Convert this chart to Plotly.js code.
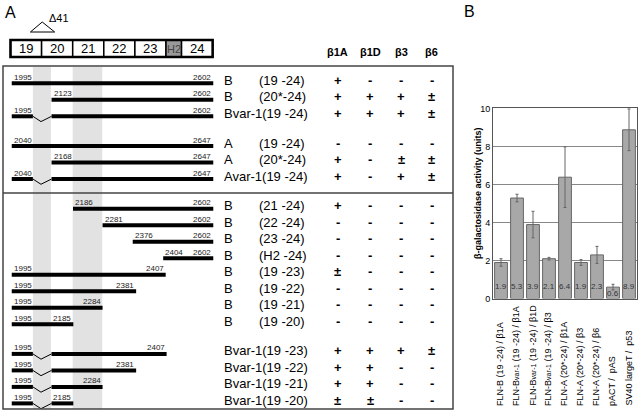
<!DOCTYPE html>
<html><head><meta charset="utf-8">
<script src="https://cdn.plot.ly/plotly-3.0.1.min.js"></script>
<style>html,body{margin:0;padding:0;background:#fff}#chart{width:640px;height:420px}</style>
</head><body><div id="chart"></div>
<script>
// ---------- Panel B data ----------
const barLabels = [
  'FLN-B (19 -24) / β1A',
  'FLN-B<span style="font-size:7px">var-1</span> (19 -24) / β1A',
  'FLN-B<span style="font-size:7px">var-1</span> (19 -24) / β1D',
  'FLN-B<span style="font-size:7px">var-1</span> (19 -24) / β3',
  'FLN-A (20*-24) / β1A',
  'FLN-A (20*-24) / β3',
  'FLN-A (20*-24) / β6',
  'pACT /  pAS',
  'SV40 largeT /  p53'
];
const barValues = [1.9, 5.3, 3.9, 2.1, 6.4, 1.9, 2.3, 0.6, 8.9];
const barErrors = [0.2, 0.2, 0.7, 0.07, 1.6, 0.15, 0.45, 0.15, 1.1];

// ---------- Panel A data ----------
const constructNames = ['B','B','Bvar-1','A','A','Avar-1','B','B','B','B','B','B','B','B','Bvar-1','Bvar-1','Bvar-1','Bvar-1'];
const constructRanges = ['(19 -24)','(20*-24)','(19 -24)','(19 -24)','(20*-24)','(19 -24)','(21 -24)','(22 -24)','(23 -24)','(H2 -24)','(19 -23)','(19 -22)','(19 -21)','(19 -20)','(19 -23)','(19 -22)','(19 -21)','(19 -20)'];
const constructGroup = [0,0,0,1,1,1,2,2,2,2,2,2,2,2,3,3,3,3];
const startNt = [1995,2123,1995,2040,2168,2040,2186,2281,2376,2404,1995,1995,1995,1995,1995,1995,1995,1995];
const endNt   = [2602,2602,2602,2647,2647,2647,2602,2602,2602,2602,2407,2381,2284,2185,2407,2381,2284,2185];
// positions along the exon diagram (exon units: exon 19 starts at 0)
const startPos = [0.04,1.32,0.04,0.04,1.32,0.04,2.01,2.96,3.93,4.91,0.04,0.04,0.04,0.04,0.04,0.04,0.04,0.04];
const endPos   = [6.52,6.52,6.52,6.52,6.52,6.52,6.52,6.52,6.52,6.52,4.99,4.04,2.96,2.02,5.02,4.04,2.96,2.02];
const spliceVar = [false,false,true,false,false,true,false,false,false,false,false,false,false,false,true,true,true,true];
const betaHeaders = ['β1A','β1D','β3','β6'];
const beta1A = ['+','+','+','-','+','+','+','-','-','-','±','-','-','-','+','+','+','±'];
const beta1D = ['-','+','+','-','-','-','-','-','-','-','-','-','-','-','+','+','+','±'];
const beta3  = ['-','+','+','-','±','+','-','-','-','-','-','-','-','-','+','-','-','-'];
const beta6  = ['-','±','±','-','±','±','-','-','-','-','-','-','-','-','±','-','-','-'];
const exonNames = ['19','20','21','22','23','H2','24'];
const exonStart = [0,1,2,3,4,5,5.5];
const exonEnd   = [1,2,3,4,5,5.5,6.5];
const delta41 = [0.72, 1.32];      // deleted segment (Δ41)
const shadedBands = [[0.72, 1.30], [2.0, 2.95]];

// ---------- helpers ----------
const W = 640, H = 420;
const px = x => x / W;
const py = y => 1 - y / H;
const FONT = 'Liberation Sans, Arial, sans-serif';
const rowY = constructNames.map((_, i) => i + 0.8 * constructGroup[i]);

const traces = [];
const shapes = [];
const annotations = [];

// ---------- Panel A ----------
// shaded bands
shadedBands.forEach(b => shapes.push({type:'rect', xref:'x2', yref:'paper', x0:b[0], x1:b[1], y0:py(409), y1:py(67), fillcolor:'#e2e2e2', line:{width:0}, layer:'below'}));
// box and separator
shapes.push({type:'rect', xref:'paper', yref:'paper', x0:px(3), x1:px(453), y0:py(409), y1:py(66), line:{color:'#444', width:1.5}});
shapes.push({type:'line', xref:'paper', yref:'paper', x0:px(3), x1:px(453), y0:py(193), y1:py(193), line:{color:'#444', width:1.5}});

// exon boxes
exonNames.forEach((n, i) => {
  shapes.push({type:'rect', xref:'x2', yref:'paper', x0:exonStart[i], x1:exonEnd[i], y0:py(57), y1:py(40),
    fillcolor: n === 'H2' ? '#9a9a9a' : '#fff', line:{color:'#000', width:1.5}});
  annotations.push({xref:'x2', yref:'paper', x:(exonStart[i]+exonEnd[i])/2, y:py(48.5), text:n, showarrow:false,
    font:{family:FONT, size: n === 'H2' ? 11 : 13, color: n === 'H2' ? '#444' : '#000'}, xanchor:'center', yanchor:'middle'});
});
shapes.push({type:'rect', xref:'x2', yref:'paper', x0:exonStart[0], x1:exonEnd[exonEnd.length-1], y0:py(57), y1:py(40), line:{color:'#000', width:2.5}});
// Δ41 triangle
const triMid = (delta41[0] + delta41[1]) / 2;
shapes.push({type:'path', xref:'x2', yref:'paper',
  path:`M ${delta41[0]-0.08} ${py(32)} L ${triMid} ${py(22)} L ${delta41[1]+0.1} ${py(32)} Z`,
  fillcolor:'#fff', line:{color:'#000', width:1}});
annotations.push({xref:'paper', yref:'paper', x:px(47), y:py(18), text:'Δ41', showarrow:false, xanchor:'left', yanchor:'middle', font:{family:FONT, size:11, color:'#000'}});
annotations.push({xref:'paper', yref:'paper', x:px(3), y:py(12.5), text:'A', showarrow:false, xanchor:'left', yanchor:'middle', font:{family:FONT, size:16, color:'#000'}});
annotations.push({xref:'paper', yref:'paper', x:px(462), y:py(11.5), text:'B', showarrow:false, xanchor:'left', yanchor:'middle', font:{family:FONT, size:16, color:'#000'}});

// construct lines
const thickX = [], thickY = [], thinX = [], thinY = [];
constructNames.forEach((n, i) => {
  const r = rowY[i];
  if (spliceVar[i]) {
    thickX.push(startPos[i], delta41[0], null, delta41[1], endPos[i], null);
    thickY.push(r, r, null, r, r, null);
    thinX.push(delta41[0], (delta41[0]+delta41[1])/2 - 0.04, delta41[1], null);
    thinY.push(r, r + 0.32, r, null);
  } else {
    thickX.push(startPos[i], endPos[i], null);
    thickY.push(r, r, null);
  }
  annotations.push({xref:'x2', yref:'y2', x:startPos[i], y:r, yshift:6, text:String(startNt[i]), showarrow:false, xanchor:'left', yanchor:'middle', font:{family:FONT, size:8, color:'#222'}});
  annotations.push({xref:'x2', yref:'y2', x:endPos[i], y:r, yshift:6, text:String(endNt[i]), showarrow:false, xanchor:'right', yanchor:'middle', font:{family:FONT, size:8, color:'#222'}});
  // row labels
  if (n.indexOf('var') >= 0) {
    annotations.push({xref:'paper', yref:'y2', x:px(222), y:r, yshift:3, text:n + constructRanges[i], showarrow:false, xanchor:'left', yanchor:'middle', font:{family:FONT, size:13, color:'#000'}});
  } else {
    annotations.push({xref:'paper', yref:'y2', x:px(222), y:r, yshift:3, text:n, showarrow:false, xanchor:'left', yanchor:'middle', font:{family:FONT, size:13, color:'#000'}});
    annotations.push({xref:'paper', yref:'y2', x:px(257), y:r, yshift:3, text:constructRanges[i], showarrow:false, xanchor:'left', yanchor:'middle', font:{family:FONT, size:13, color:'#000'}});
  }
  // table symbols
  const cols = [beta1A, beta1D, beta3, beta6];
  const colX = [337.5, 370, 401, 431.5];
  cols.forEach((c, j) => {
    annotations.push({xref:'paper', yref:'y2', x:px(colX[j]), y:r, yshift:3, text:'<b>' + c[i] + '</b>', showarrow:false, xanchor:'center', yanchor:'middle', font:{family:FONT, size:13, color:'#000'}});
  });
});
[337.5, 370, 401, 431.5].forEach((cx, j) => {
  annotations.push({xref:'paper', yref:'paper', x:px(cx), y:py(52), text:'<b>' + betaHeaders[j] + '</b>', showarrow:false, xanchor:'center', yanchor:'middle', font:{family:FONT, size:11, color:'#000'}});
});

traces.push({type:'scatter', mode:'lines', x:thickX, y:thickY, xaxis:'x2', yaxis:'y2', line:{color:'#000', width:4}, hoverinfo:'skip', showlegend:false, connectgaps:false});
traces.push({type:'scatter', mode:'lines', x:thinX, y:thinY, xaxis:'x2', yaxis:'y2', line:{color:'#000', width:1}, hoverinfo:'skip', showlegend:false, connectgaps:false});

// ---------- Panel B ----------
const barX = barValues.map((_, i) => i);
traces.push({type:'bar', x:barX, y:barValues, xaxis:'x', yaxis:'y',
  marker:{color:'#a8a8a8', line:{color:'#666', width:1}},
  error_y:{type:'data', array:barErrors, visible:true, color:'#666', thickness:1, width:1.5},
  hoverinfo:'skip', showlegend:false});
barValues.forEach((v, i) => {
  annotations.push({xref:'x', yref:'y', x:i, y:0, yshift: v < 1 ? -1 : 6, text:v.toFixed(1), showarrow:false, xanchor:'center', yanchor:'bottom', font:{family:FONT, size:8, color:'#333'}});
  annotations.push({xref:'x', yref:'paper', x:i, xshift:-1, y:py(408), text:barLabels[i], textangle:-90, showarrow:false, xanchor:'center', yanchor:'bottom', font:{family:FONT, size:9, color:'#000'}});
});
annotations.push({xref:'paper', yref:'paper', x:px(478), y:py(193), text:'<b>β-galactosidase activity (units)</b>', textangle:-90, showarrow:false, xanchor:'center', yanchor:'middle', font:{family:FONT, size:9, color:'#000'}});

const layout = {
  width: W, height: H,
  margin: {l:0, r:0, t:0, b:0, pad:0},
  paper_bgcolor:'#fff', plot_bgcolor:'rgba(0,0,0,0)',
  showlegend:false,
  bargap: 0.2,
  font:{family:FONT, color:'#000'},
  xaxis: {domain:[px(493), px(637)], range:[-0.5, 8.5], showticklabels:false, ticks:'', showgrid:false, zeroline:false,
          showline:true, mirror:true, linecolor:'#555', linewidth:1, anchor:'y', fixedrange:true},
  yaxis: {domain:[py(298.5), py(108)], range:[0, 10.05], dtick:2, tick0:0, showgrid:true, gridcolor:'#888', gridwidth:1,
          zeroline:false, showline:true, mirror:true, linecolor:'#555', linewidth:1, ticks:'',
          tickfont:{family:FONT, size:9, color:'#000'}, anchor:'x', fixedrange:true},
  xaxis2: {domain:[0, px(460)], range:[-10.5/31.1, (460-10.5)/31.1], visible:false, anchor:'y2', fixedrange:true},
  yaxis2: {domain:[0, 1], range:[(420-83.3)/16.5, -83.3/16.5], visible:false, anchor:'x2', fixedrange:true},
  shapes: shapes,
  annotations: annotations
};

Plotly.newPlot('chart', traces, layout, {staticPlot:true, displayModeBar:false});
</script>
</body></html>
